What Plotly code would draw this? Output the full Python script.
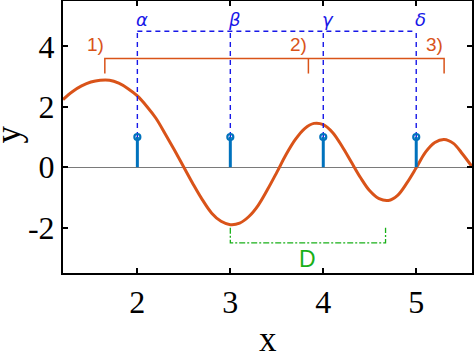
import plotly.graph_objects as go

# ---- data ----
curve_x = [1.2, 1.3, 1.4, 1.5, 1.6, 1.7, 1.8, 1.9, 2.0, 2.1, 2.2, 2.3, 2.4, 2.5, 2.6, 2.7,
           2.8, 2.9, 3.0, 3.1, 3.2, 3.3, 3.4, 3.5, 3.6, 3.7, 3.8, 3.9, 4.0, 4.1, 4.2, 4.3,
           4.4, 4.5, 4.6, 4.7, 4.8, 4.9, 5.0, 5.1, 5.2, 5.3, 5.4, 5.5, 5.6]
curve_y = [2.24, 2.50, 2.69, 2.82, 2.88, 2.88, 2.78, 2.60, 2.36, 2.02, 1.62, 1.10, 0.56,
           0.00, -0.56, -1.08, -1.52, -1.79, -1.90, -1.85, -1.63, -1.26, -0.74, -0.17,
           0.42, 0.92, 1.28, 1.45, 1.41, 1.15, 0.70, 0.18, -0.34, -0.78, -1.04, -1.10,
           -0.93, -0.52, -0.02, 0.50, 0.82, 0.92, 0.79, 0.43, 0.02]

stem_x = [2, 3, 4, 5]
stem_y = [1, 1, 1, 1]
greek_labels = ["α", "β", "γ", "δ"]
dash_top = 4.5
greek_y = 4.9

bracket_x = [1.65, 3.84, 5.30]
bracket_labels = ["1)", "2)", "3)"]
bracket_top = 3.6
bracket_bottom = 3.1
bracket_label_y = 4.05

d_x = [3.0, 4.67]
d_top = -2.0
d_bottom = -2.5
d_label = "D"
d_label_y = -3.03

x_ticks = [2, 3, 4, 5]
x_ticktext = ["2", "3", "4", "5"]
y_ticks = [-2, 0, 2, 4]
y_ticktext = ["-2", "0", "2", "4"]
x_range = [1.2, 5.6]
y_range = [-3.5, 5.5]
x_title = "x"
y_title = "y"

ORANGE = "#D95319"
STEMBLUE = "#0072BD"
BLUE = "#1818E8"
GREEN = "#18B018"

fig = go.Figure()

# main curve
fig.add_trace(go.Scatter(x=curve_x, y=curve_y, mode="lines",
                         line=dict(color=ORANGE, width=3, shape="spline", smoothing=1.0),
                         hoverinfo="skip"))

# blue dashed guide lines
gx, gy = [], []
for xv, yv in zip(stem_x, stem_y):
    gx += [xv, xv, None]
    gy += [yv, dash_top, None]
gx += [stem_x[0], stem_x[-1]]
gy += [dash_top, dash_top]
fig.add_trace(go.Scatter(x=gx, y=gy, mode="lines",
                         line=dict(color=BLUE, width=1.4, dash="5px,4px"), hoverinfo="skip"))

# stems
sx, sy = [], []
for xv, yv in zip(stem_x, stem_y):
    sx += [xv, xv, None]
    sy += [0, yv, None]
fig.add_trace(go.Scatter(x=sx, y=sy, mode="lines",
                         line=dict(color=STEMBLUE, width=3), hoverinfo="skip"))
fig.add_trace(go.Scatter(x=stem_x, y=stem_y, mode="markers",
                         marker=dict(symbol="circle-open", size=6, color=STEMBLUE,
                                     line=dict(width=2.2, color=STEMBLUE)),
                         hoverinfo="skip"))

# orange bracket
bx = [bracket_x[0], bracket_x[0], bracket_x[-1], bracket_x[-1], None,
      bracket_x[1], bracket_x[1]]
by = [bracket_bottom, bracket_top, bracket_top, bracket_bottom, None,
      bracket_top, bracket_bottom]
fig.add_trace(go.Scatter(x=bx, y=by, mode="lines",
                         line=dict(color=ORANGE, width=1.5), hoverinfo="skip"))

# green dash-dot bracket
dx = [d_x[0], d_x[0], d_x[1], d_x[1]]
dy = [d_top, d_bottom, d_bottom, d_top]
fig.add_trace(go.Scatter(x=dx, y=dy, mode="lines",
                         line=dict(color=GREEN, width=1.3, dash="6px,2px,2px,2px"),
                         hoverinfo="skip"))

serif = "Liberation Serif, Times New Roman, serif"
annotations = []
for xv, lab in zip(stem_x, greek_labels):
    annotations.append(dict(x=xv + 0.05, y=greek_y, xref="x", yref="y", text="<i>" + lab + "</i>",
                            showarrow=False, xanchor="center", yanchor="middle",
                            font=dict(family="DejaVu Sans, Arial, sans-serif", size=18, color=BLUE)))
for xv, lab in zip(bracket_x, bracket_labels):
    annotations.append(dict(x=xv, y=bracket_label_y, xref="x", yref="y", text=lab,
                            showarrow=False, xanchor="right", yanchor="middle", xshift=1,
                            font=dict(family="Liberation Sans, Arial, sans-serif", size=19, color=ORANGE)))
annotations.append(dict(x=(d_x[0] + d_x[1]) / 2, y=d_label_y, xref="x", yref="y", text=d_label,
                        showarrow=False, xanchor="center", yanchor="middle",
                        font=dict(family="Liberation Sans, Arial, sans-serif", size=23, color=GREEN)))
# axis titles
annotations.append(dict(x=0.5, y=0, xref="paper", yref="paper", text=x_title,
                        showarrow=False, xanchor="center", yanchor="top", yshift=-45,
                        font=dict(family=serif, size=35, color="black")))
annotations.append(dict(x=0, y=0.5, xref="paper", yref="paper", text=y_title, textangle=-90,
                        showarrow=False, xanchor="right", yanchor="middle", xshift=-34, yshift=2,
                        font=dict(family=serif, size=35, color="black")))

fig.update_layout(
    width=474, height=354,
    margin=dict(l=63, r=2, t=1, b=81),
    paper_bgcolor="white", plot_bgcolor="white",
    showlegend=False,
    annotations=annotations,
    font=dict(family=serif, size=32, color="black"),
    xaxis=dict(range=x_range, tickvals=x_ticks, ticktext=x_ticktext, automargin=False,
               ticks="inside", ticklen=5, tickwidth=1.5, tickcolor="black",
               showline=True, linecolor="black", linewidth=2, mirror="allticks",
               showgrid=False, zeroline=False,
               tickfont=dict(family=serif, size=32)),
    yaxis=dict(range=y_range, tickvals=y_ticks, ticktext=y_ticktext, automargin=False,
               ticks="inside", ticklen=5, tickwidth=1.5, tickcolor="black",
               showline=True, linecolor="black", linewidth=2, mirror="allticks",
               showgrid=False, zeroline=True, zerolinecolor="#7a7a7a", zerolinewidth=1,
               tickfont=dict(family=serif, size=32)),
)

fig.write_html("out.html")
